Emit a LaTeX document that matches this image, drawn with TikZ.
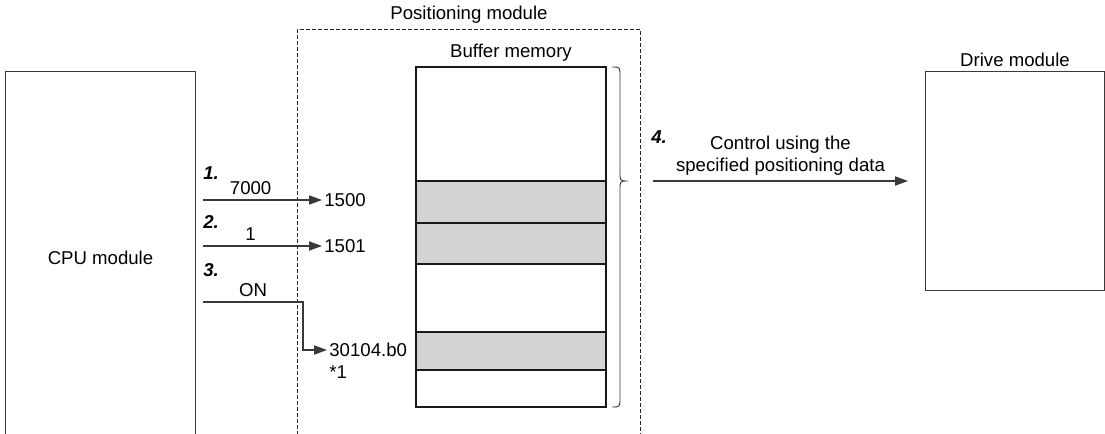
\documentclass[tikz,border=0pt]{standalone}
\usepackage{fontspec}
\setmainfont{Liberation Sans}
\usepackage{xcolor}
\usetikzlibrary{positioning,arrows.meta}

\definecolor{cellgray}{HTML}{D1D3D4}
\definecolor{linegray}{HTML}{3A3A3A}

\begin{document}
\begin{tikzpicture}[
    x=0.5pt, y=-0.5pt,
    font=\fontsize{9.3}{11.2}\selectfont,
    module/.style={rectangle, draw=linegray, line width=0.5pt, anchor=north west, inner sep=0pt},
    cell/.style={rectangle, draw=black!90, line width=1pt, minimum width=95pt, inner sep=0pt, outer sep=0pt},
    arrow/.style={draw=linegray, line width=0.6pt, -{Triangle[length=6.5pt,width=4.6pt]}},
    label/.style={inner sep=1pt},
    stepnum/.style={font=\fontsize{9.3}{11.2}\selectfont\bfseries\itshape, inner sep=1pt},
    node distance=0pt
]
    \useasboundingbox (0,0) rectangle (1105,434);
    \clip (0,0) rectangle (1105,434);

    % Modules
    \node[module, draw=black!85, dashed, dash pattern=on 1.6pt off 1.4pt, minimum width=171.5pt, minimum height=230pt] (posmod) at (297,29) {};
    \node[label, above=1.5pt of posmod.north] (posmodlabel) {Positioning module};

    \node[module, minimum width=95pt, minimum height=186pt] (cpu) at (5,71) {CPU module};
    \node[module, minimum width=89.5pt, minimum height=109.5pt] (drive) at (925,71) {};
    \node[label, above=1pt of drive.north] (drivelabel) {Drive module};

    % Buffer memory cells
    \node[cell, anchor=north west, minimum height=57pt] (m1) at (416,67) {};
    \node[cell, below=of m1, minimum height=21pt, fill=cellgray] (m2) {};
    \node[cell, below=of m2, minimum height=20.5pt, fill=cellgray] (m3) {};
    \node[cell, below=of m3, minimum height=34pt] (m4) {};
    \node[cell, below=of m4, minimum height=19pt, fill=cellgray] (m5) {};
    \node[cell, below=of m5, minimum height=18.5pt] (m6) {};
    \node[label, above=1.5pt of m1.north] (buflabel) {Buffer memory};

    % Brace
    \draw[linegray, line width=0.45pt] (612,67) .. controls (620,67) .. (620,76) -- (620,172)
        .. controls (620,181) .. (628,181) .. controls (620,181) .. (620,190) -- (620,398)
        .. controls (620,407) .. (612,407);

    % Addresses
    \node[label, anchor=west] (a1) at (322,200) {1500};
    \node[label, anchor=west] (a2) at (322,246) {1501};
    \node[label, anchor=west] (a3) at (327,350) {30104.b0};
    \node[label, anchor=north west] (note1) at ([yshift=-2pt]a3.south west) {*1};

    % Steps
    \node[stepnum, anchor=west] (s1) at (201,173) {1.};
    \node[stepnum, anchor=west] (s2) at (201,222) {2.};
    \node[stepnum, anchor=west] (s3) at (201,270) {3.};
    \node[stepnum, anchor=west] (s4) at (649,137) {4.};

    \coordinate (bend3) at (303,302);
    \coordinate (c4) at (653,181);

    % Arrows
    \path[arrow] ([xshift=3.5pt]cpu.east |- a1) -- (a1) node[pos=0.4, above=1.5pt, label] {7000};
    \path[arrow] ([xshift=3.5pt]cpu.east |- a2) -- (a2) node[pos=0.4, above=1.5pt, label] {1};
    \path[arrow] ([xshift=3.5pt]cpu.east |- bend3) -- (bend3) node[midway, above=1.5pt, label] {ON} |- (a3);
    \path[arrow] (c4) -- ([xshift=-8.5pt]drive.west |- c4)
        node[midway, above=1.5pt, label, align=center] {Control using the\\specified positioning data};
\end{tikzpicture}
\end{document}
